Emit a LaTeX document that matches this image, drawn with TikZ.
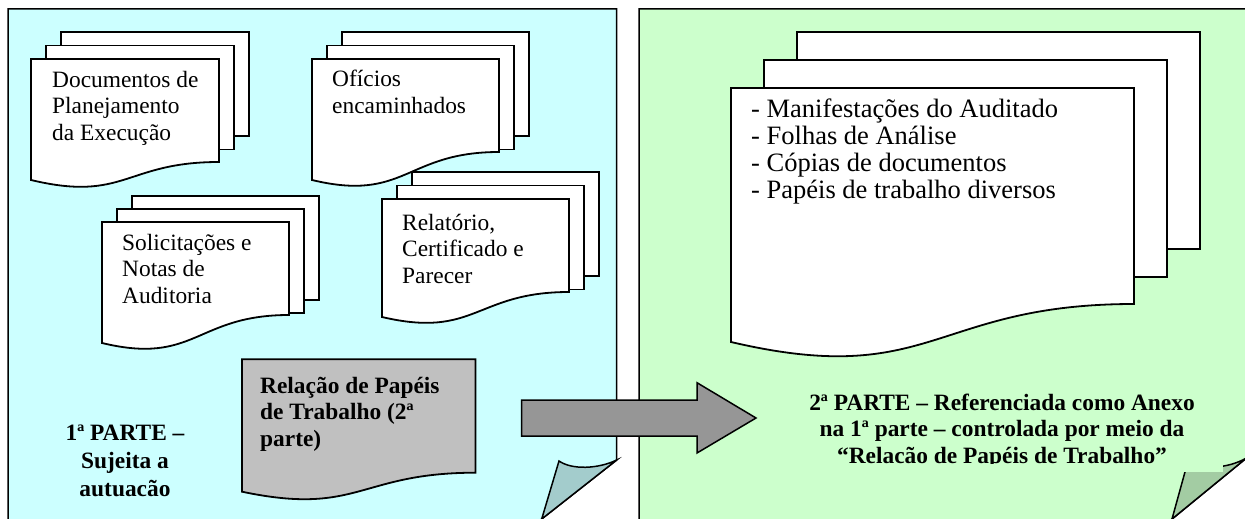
\documentclass[tikz,border=0pt]{standalone}
\usepackage{fontspec}
\setmainfont{Liberation Serif}
\definecolor{lcyan}{HTML}{CCFFFF}
\definecolor{lgreen}{HTML}{CCFFCC}
\definecolor{foldc}{HTML}{A3CCCC}
\definecolor{foldg}{HTML}{A3CCA3}
\definecolor{arrowgray}{HTML}{969696}
\definecolor{docgray}{HTML}{C0C0C0}
\tikzset{
  panel/.style={draw=black, line width=1.5pt, line join=miter},
  docline/.style={draw=black, line width=1.8pt, fill=white, line join=miter},
  regtxt/.style={inner sep=0pt, align=left, anchor=base west, font=\fontsize{23.4}{26.6}\selectfont},
  listtxt/.style={inner sep=0pt, align=left, anchor=base west, font=\fontsize{26.5}{27}\selectfont},
  boldtxt/.style={inner sep=0pt, font=\bfseries\fontsize{23.4}{26.5}\selectfont},
  blockarrow/.style={draw=black, line width=1.5pt, fill=arrowgray, line join=miter},
}
% multi-document: left, top, width, left height, right height, back height, dx, dy
\newcommand\mdoc[8]{%
  \path[docline] ({#1+2*#7},{#2-2*#8}) rectangle ++(#3,#6);
  \path[docline] ({#1+#7},{#2-#8}) rectangle ++(#3,#6);
  \path[docline] (#1,#2) -- ++(#3,0) -- ++(0,#5)
     .. controls ({#1+0.5*#3},{#2+#5}) and ({#1+0.5*#3},{#2+1.186*#4}) .. (#1,{#2+#4}) -- cycle;
}
\begin{document}
\begin{tikzpicture}[x=1pt,y=-1pt]
\useasboundingbox (0,0) rectangle (1245,519);
\clip (0,0) rectangle (1245,519);
\fill[white] (0,0) rectangle (1245,519);

% left panel
\path[panel, fill=lcyan] (8,9) -- (616.7,9) -- (616.7,460) -- (515,540) -- (8,540) -- cycle;
\path[panel, fill=foldc] (559,461) .. controls (572,470) and (598,469) .. (616.7,460) -- (541.7,519) -- cycle;

% right panel
\path[panel, fill=lgreen] (639,9) -- (1246.5,9) -- (1246.5,458) -- (1146.5,540) -- (639,540) -- cycle;
\path[panel, fill=foldg] (1188,461) .. controls (1201,470) and (1227,469) .. (1246.5,458) -- (1172,519) -- cycle;

% documents, left panel
\mdoc{31}{59}{188}{121}{103}{104}{15}{13.5}
\mdoc{312}{59}{187}{121}{93}{104}{15}{13.5}
\mdoc{382}{199}{187}{118}{93}{104}{15}{13.5}
\mdoc{102}{222}{187}{121}{93}{104}{15}{13}
\path[docline, fill=docgray] (242,359.3) -- (475.5,359.3) -- (475.5,472.7)
   .. controls (358.75,472.7) and (358.75,516.3) .. (242,491.7) -- cycle;

% document, right panel
\mdoc{731}{88}{403}{254}{216}{217}{33}{28}

% texts (anchor = baseline of the last line)
\node[regtxt] (doc1) at (52,140.2) {Documentos de\\Planejamento\\da Execução};
\node[regtxt] (doc2) at (332,113.6) {Ofícios\\encaminhados};
\node[regtxt] (doc3) at (122,303.2) {Solicitações e\\Notas de\\Auditoria};
\node[regtxt] (doc4) at (402,283.2) {Relatório,\\Certificado e\\Parecer};
\node[listtxt] (lista) at (751,198) {- Manifestações do Auditado\\- Folhas de Análise\\- Cópias de documentos\\- Papéis de trabalho diversos};
\node[boldtxt, align=left, anchor=base west] (relacao) at (260,446) {Relação de Papéis\\de Trabalho (2ª\\parte)};
\node[boldtxt, align=center, anchor=base, font=\bfseries\fontsize{23.4}{28}\selectfont] (parte1) at (125,496) {1ª PARTE –\\Sujeita a\\autuacão};

% arrow
\path[blockarrow] (521.7,400) -- (697,400) -- (697,382.7) -- (756,418) -- (697,453) -- (697,436) -- (521.7,436) -- cycle;

% second part text box
\fill[lgreen] (781,385) rectangle (1222.7,471.7);
\begin{scope}
\clip (781,385) rectangle (1222.7,463.3);
\node[boldtxt, align=center, anchor=base] (parte2) at (1002,463) {2ª PARTE – Referenciada como Anexo\\na 1ª parte – controlada por meio da\\“Relacão de Papéis de Trabalho”};
\end{scope}
\end{tikzpicture}
\end{document}
